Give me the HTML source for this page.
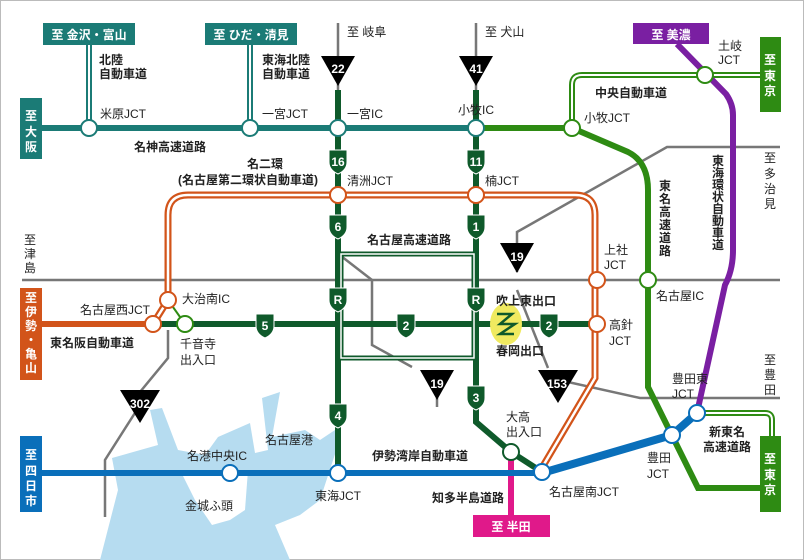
<!DOCTYPE html>
<html><head><meta charset="utf-8"><style>
html,body{margin:0;padding:0;background:#fff}
svg{display:block}
text{font-family:"Liberation Sans","Noto Sans CJK JP",sans-serif;font-size:12px;fill:#222}
.b{font-weight:bold}
.w{fill:#fff;font-weight:bold}
</style></head><body>
<svg width="804" height="560" viewBox="0 0 804 560" xmlns="http://www.w3.org/2000/svg">
<rect x="0.5" y="0.5" width="803" height="559" fill="#fff" stroke="#bbb"/>
<!-- water -->
<path d="M150,410 L162,408 L178,450 L205,455 L218,437 L250,423 L255,453 L268,450 L262,398 L280,392 L272,437 L305,430 L320,440 L335,430 L338,445 L320,500 L300,515 L275,525 L290,560 L100,560 L118,490 L112,458 L158,445 Z" fill="#b6dcf0"/>
<path d="M180,470 L248,470 L245,510 L230,520 L212,525 L195,500 Z" fill="#fff"/>
<!-- gray roads -->
<g stroke="#777" stroke-width="2.5" fill="none">
<line x1="22" y1="280" x2="780" y2="280"/>
<line x1="338" y1="23" x2="338" y2="90"/>
<line x1="476" y1="23" x2="476" y2="90"/>
<polyline points="780,147 667,147 517,232 517,272"/>
<polyline points="168,330 168,358 140,392"/>
<polyline points="140,405 105,460 105,517"/>
<polyline points="341,256 372,280 372,345 412,367"/>
<line x1="437" y1="390" x2="437" y2="407"/>
<polyline points="517,290 548,368"/>
<polyline points="568,382 640,398 780,398"/>
</g>
<!-- Meishin teal -->
<g stroke="#1b7b76" fill="none">
<line x1="42" y1="128" x2="476" y2="128" stroke-width="6"/>
<line x1="89" y1="45" x2="89" y2="128" stroke-width="6"/>
<line x1="250" y1="45" x2="250" y2="128" stroke-width="6"/>
</g>
<line x1="89" y1="45" x2="89" y2="122" stroke="#fff" stroke-width="2"/>
<line x1="250" y1="45" x2="250" y2="122" stroke="#fff" stroke-width="2"/>
<rect x="43" y="23" width="92" height="22" fill="#1b7b76"/>
<rect x="205" y="23" width="92" height="22" fill="#1b7b76"/>
<rect x="20" y="98" width="22" height="61" fill="#1b7b76"/>
<!-- Chuo double -->
<path d="M572,124 L572,85 Q572,75 582,75 L760,75" stroke="#2e8b13" stroke-width="6" fill="none"/>
<path d="M572,124 L572,85 Q572,75 582,75 L760,75" stroke="#fff" stroke-width="2" fill="none"/>
<rect x="760" y="37" width="21" height="75" fill="#2e8b13"/>
<!-- Shin-Tomei double -->
<path d="M697,413 L765,413 Q772,413 772,420 L772,440" stroke="#2e8b13" stroke-width="6" fill="none"/>
<path d="M700,413 L765,413 Q772,413 772,420 L772,440" stroke="#fff" stroke-width="2" fill="none"/>
<!-- purple -->
<path d="M677,44 L726,94 Q733,104 733,115 L733,250 Q733,270 725,285 L697,413" stroke="#7a1fa2" stroke-width="6" fill="none"/>
<rect x="633" y="23" width="76" height="21" fill="#7a1fa2"/>
<!-- Tomei green -->
<path d="M476,128 L572,128 L628,152 Q648,162 648,190 L648,387 L698,488 L765,488" stroke="#2e8b13" stroke-width="6" fill="none"/>
<rect x="760" y="436" width="21" height="76" fill="#2e8b13"/>
<!-- orange Meinikan double -->
<path d="M153,324 L168,300 L168,215 Q168,195 188,195 L575,195 Q595,195 595,215 L595,378 L543,466" stroke="#d2541a" stroke-width="7" fill="none"/>
<path d="M153,324 L168,300 L168,215 Q168,195 188,195 L575,195 Q595,195 595,215 L595,378 L543,466" stroke="#fff" stroke-width="2.5" fill="none"/>
<line x1="42" y1="324" x2="153" y2="324" stroke="#d2541a" stroke-width="6"/>
<rect x="20" y="288" width="22" height="92" fill="#d2541a"/>
<!-- Nagoya expressway dark green -->
<g stroke="#0f5a2b" fill="none">
<line x1="338" y1="90" x2="338" y2="473" stroke-width="6"/>
<polyline points="476,90 476,422 511,452 542,472" stroke-width="6"/>
<line x1="160" y1="324" x2="597" y2="324" stroke-width="6"/>
<rect x="341" y="254" width="133" height="104" stroke-width="5"/>
<line x1="168" y1="300" x2="185" y2="324" stroke="#2e8b13" stroke-width="2"/>
</g>
<rect x="341" y="254" width="133" height="104" stroke="#fff" stroke-width="1.5" fill="none"/>
<!-- magenta -->
<line x1="511" y1="452" x2="511" y2="515" stroke="#e0198a" stroke-width="6"/>
<rect x="473" y="515" width="77" height="22" fill="#e0198a"/>
<!-- blue -->
<polyline points="42,473 542,473" stroke="#0a6fba" stroke-width="6" fill="none"/>
<polyline points="542,473 672,435 697,413" stroke="#0a6fba" stroke-width="8" fill="none"/>
<rect x="20" y="436" width="22" height="76" fill="#0a6fba"/>
<!-- yellow -->
<ellipse cx="506" cy="324" rx="16" ry="21" fill="#f0ea60"/>
<path d="M497,314 L512,314 L500,324 L515,324 L500,334 L514,334" stroke="#0f5a2b" stroke-width="2.5" fill="none"/>
<!-- nodes -->
<g fill="#fff" stroke-width="2">
<circle cx="89" cy="128" r="8" stroke="#1b7b76"/>
<circle cx="250" cy="128" r="8" stroke="#1b7b76"/>
<circle cx="338" cy="128" r="8" stroke="#1b7b76"/>
<circle cx="476" cy="128" r="8" stroke="#1b7b76"/>
<circle cx="572" cy="128" r="8" stroke="#2e8b13"/>
<circle cx="705" cy="75" r="8" stroke="#2e8b13"/>
<circle cx="338" cy="195" r="8" stroke="#d2541a"/>
<circle cx="476" cy="195" r="8" stroke="#d2541a"/>
<circle cx="597" cy="280" r="8" stroke="#d2541a"/>
<circle cx="597" cy="324" r="8" stroke="#d2541a"/>
<circle cx="648" cy="280" r="8" stroke="#2e8b13"/>
<circle cx="168" cy="300" r="8" stroke="#d2541a"/>
<circle cx="153" cy="324" r="8" stroke="#d2541a"/>
<circle cx="185" cy="324" r="8" stroke="#2e8b13"/>
<circle cx="511" cy="452" r="8" stroke="#0f5a2b"/>
<circle cx="542" cy="472" r="8" stroke="#0a6fba"/>
<circle cx="672" cy="435" r="8" stroke="#0a6fba"/>
<circle cx="697" cy="413" r="8" stroke="#0a6fba"/>
<circle cx="230" cy="473" r="8" stroke="#0a6fba"/>
<circle cx="338" cy="473" r="8" stroke="#0a6fba"/>
</g>
<!-- shields -->
<g fill="#0f5a2b" stroke="#fff" stroke-width="1">
<path d="M329,150 h18 v12 q0,8 -9,12 q-9,-4 -9,-12 z"/>
<path d="M329,215 h18 v12 q0,8 -9,12 q-9,-4 -9,-12 z"/>
<path d="M329,288 h18 v12 q0,8 -9,12 q-9,-4 -9,-12 z"/>
<path d="M329,404 h18 v12 q0,8 -9,12 q-9,-4 -9,-12 z"/>
<path d="M467,150 h18 v12 q0,8 -9,12 q-9,-4 -9,-12 z"/>
<path d="M467,215 h18 v12 q0,8 -9,12 q-9,-4 -9,-12 z"/>
<path d="M467,288 h18 v12 q0,8 -9,12 q-9,-4 -9,-12 z"/>
<path d="M467,386 h18 v12 q0,8 -9,12 q-9,-4 -9,-12 z"/>
<path d="M256,314 h18 v12 q0,8 -9,12 q-9,-4 -9,-12 z"/>
<path d="M397,314 h18 v12 q0,8 -9,12 q-9,-4 -9,-12 z"/>
<path d="M540,314 h18 v12 q0,8 -9,12 q-9,-4 -9,-12 z"/>
</g>
<g text-anchor="middle" class="w" style="font-size:12px">
<text x="338" y="166" class="w">16</text><text x="338" y="231" class="w">6</text>
<text x="338" y="304" class="w">R</text><text x="338" y="420" class="w">4</text>
<text x="476" y="166" class="w">11</text><text x="476" y="231" class="w">1</text>
<text x="476" y="304" class="w">R</text><text x="476" y="402" class="w">3</text>
<text x="265" y="330" class="w">5</text><text x="406" y="330" class="w">2</text>
<text x="549" y="330" class="w">2</text>
</g>
<!-- triangles -->
<g fill="#000">
<path d="M321,56 h34 l-17,30 z"/><path d="M459,56 h34 l-17,30 z"/>
<path d="M500,243 h34 l-17,30 z"/><path d="M120,390 h40 l-20,33 z"/>
<path d="M420,370 h34 l-17,30 z"/><path d="M538,370 h40 l-20,33 z"/>
</g>
<g text-anchor="middle" class="w" style="font-size:13px">
<text x="338" y="73" class="w">22</text><text x="476" y="73" class="w">41</text>
<text x="517" y="261" class="w">19</text><text x="140" y="408" class="w">302</text>
<text x="437" y="388" class="w">19</text><text x="557" y="388" class="w">153</text>
</g>
<!-- box labels -->
<text x="89" y="39" text-anchor="middle" class="w">至 金沢・富山</text>
<text x="251" y="39" text-anchor="middle" class="w">至 ひだ・清見</text>
<text x="671" y="39" text-anchor="middle" class="w">至 美濃</text>
<text x="511" y="531" text-anchor="middle" class="w">至 半田</text>
<g text-anchor="middle" class="w">
<text x="31" y="120" class="w">至</text><text x="31" y="136" class="w">大</text><text x="31" y="151" class="w">阪</text>
<text x="31" y="302" class="w">至</text><text x="31" y="316" class="w">伊</text><text x="31" y="330" class="w">勢</text><text x="31" y="344" class="w">・</text><text x="31" y="358" class="w">亀</text><text x="31" y="372" class="w">山</text>
<text x="31" y="459" class="w">至</text><text x="31" y="475" class="w">四</text><text x="31" y="490" class="w">日</text><text x="31" y="505" class="w">市</text>
<text x="770" y="64" class="w">至</text><text x="770" y="80" class="w">東</text><text x="770" y="95" class="w">京</text>
<text x="770" y="463" class="w">至</text><text x="770" y="479" class="w">東</text><text x="770" y="494" class="w">京</text>
</g>
<!-- gray/black labels -->
<g>
<text x="100" y="118">米原JCT</text><text x="262" y="118">一宮JCT</text>
<text x="347" y="118">一宮IC</text><text x="458" y="114">小牧IC</text>
<text x="584" y="122">小牧JCT</text><text x="718" y="50">土岐</text><text x="718" y="64">JCT</text>
<text x="347" y="36">至 岐阜</text><text x="485" y="36">至 犬山</text>
<text x="347" y="185">清洲JCT</text><text x="485" y="185">楠JCT</text>
<text x="604" y="254">上社</text><text x="604" y="269">JCT</text>
<text x="609" y="329">高針</text><text x="609" y="345">JCT</text>
<text x="656" y="300">名古屋IC</text>
<text x="182" y="303">大治南IC</text><text x="80" y="314">名古屋西JCT</text>
<text x="180" y="348">千音寺</text><text x="180" y="364">出入口</text>
<text x="672" y="383">豊田東</text><text x="672" y="398">JCT</text>
<text x="647" y="462">豊田</text><text x="647" y="478">JCT</text>
<text x="549" y="496">名古屋南JCT</text>
<text x="506" y="421">大高</text><text x="506" y="436">出入口</text>
<text x="187" y="460">名港中央IC</text><text x="265" y="444">名古屋港</text>
<text x="315" y="500">東海JCT</text><text x="185" y="510">金城ふ頭</text>
<text x="24" y="244">至</text><text x="24" y="258">津</text><text x="24" y="272">島</text>
<text x="764" y="162">至</text><text x="764" y="178">多</text><text x="764" y="193">治</text><text x="764" y="208">見</text>
<text x="764" y="364">至</text><text x="764" y="379">豊</text><text x="764" y="394">田</text>
</g>
<!-- colored road names -->
<g class="b" style="font-size:12px">
<text x="99" y="64" fill="#1b7b76">北陸</text><text x="99" y="78" fill="#1b7b76">自動車道</text>
<text x="262" y="64" fill="#1b7b76">東海北陸</text><text x="262" y="78" fill="#1b7b76">自動車道</text>
<text x="134" y="151" fill="#1b7b76">名神高速道路</text>
<text x="265" y="168" text-anchor="middle" fill="#d2541a">名二環</text>
<text x="248" y="184" text-anchor="middle" fill="#d2541a">(名古屋第二環状自動車道)</text>
<text x="367" y="244" fill="#0f5a2b">名古屋高速道路</text>
<text x="595" y="97" fill="#2e8b13">中央自動車道</text>
<text x="50" y="347" fill="#d2541a">東名阪自動車道</text>
<text x="496" y="305" fill="#0f5a2b">吹上東出口</text>
<text x="496" y="355" fill="#0f5a2b">春岡出口</text>
<text x="372" y="460" fill="#0a6fba">伊勢湾岸自動車道</text>
<text x="432" y="502" fill="#7a1fa2">知多半島道路</text>
<text x="709" y="436" fill="#2e8b13">新東名</text>
<text x="703" y="451" fill="#2e8b13">高速道路</text>
</g>
<g class="b" text-anchor="middle">
<text x="665" y="190" fill="#2e8b13">東</text><text x="665" y="203" fill="#2e8b13">名</text><text x="665" y="216" fill="#2e8b13">高</text><text x="665" y="229" fill="#2e8b13">速</text><text x="665" y="242" fill="#2e8b13">道</text><text x="665" y="255" fill="#2e8b13">路</text>
<text x="718" y="165" fill="#7a1fa2">東</text><text x="718" y="177" fill="#7a1fa2">海</text><text x="718" y="189" fill="#7a1fa2">環</text><text x="718" y="201" fill="#7a1fa2">状</text><text x="718" y="213" fill="#7a1fa2">自</text><text x="718" y="225" fill="#7a1fa2">動</text><text x="718" y="237" fill="#7a1fa2">車</text><text x="718" y="249" fill="#7a1fa2">道</text>
</g>
</svg>
</body></html>
